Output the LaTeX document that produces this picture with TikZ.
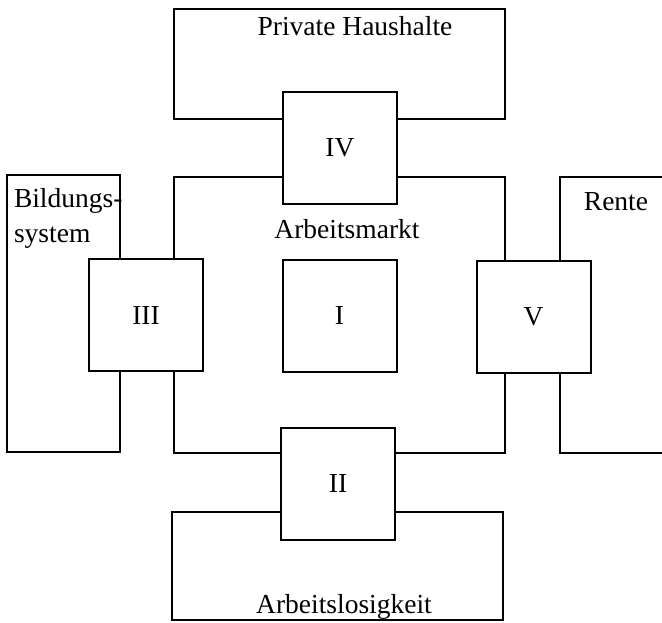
\documentclass[tikz,border=0pt]{standalone}
\usepackage{fontspec}
\setmainfont{Liberation Serif}
\begin{document}
\begin{tikzpicture}[x=1pt,y=-1pt,
  every node/.style={font=\fontsize{27.5}{32}\selectfont, inner sep=0pt, outer sep=0pt},
  bigbox/.style={draw=black, line width=2pt, rectangle},
  smallbox/.style={draw=black, line width=2pt, fill=white, rectangle, minimum width=114pt, minimum height=112pt},
  lbl/.style={anchor=base}]
\useasboundingbox (0,0) rectangle (662,622);
% outer boxes
\node[bigbox, minimum width=331pt, minimum height=110pt] (ph) at (339.5,64) {};
\node[bigbox, minimum width=331pt, minimum height=276pt] (am) at (339.5,315) {};
\node[bigbox, minimum width=113pt, minimum height=277pt] (bs) at (63.5,313.5) {};
\node[bigbox, minimum width=331pt, minimum height=108pt] (al) at (337.5,566) {};
\coordinate (rt1) at (662,177);
\coordinate (rt2) at (560,177);
\coordinate (rt3) at (560,453);
\coordinate (rt4) at (662,453);
\draw[line width=2pt, line join=miter] (rt1) -- (rt2) -- (rt3) -- (rt4);
% small boxes
\node[smallbox] (iv) at (340,148) {IV};
\node[smallbox] (iii) at (146,315) {III};
\node[smallbox] (i) at (339.5,315.5) {I};
\node[smallbox] (v) at (533.5,317) {V};
\node[smallbox] (ii) at (338,483.5) {II};
% labels
\node[lbl] (tph) at (355,35) {Private Haushalte};
\node[lbl] (tam) at (347,238) {Arbeitsmarkt};
\node[lbl] (tal) at (344,613) {Arbeitslosigkeit};
\node[lbl] (tre) at (616,210) {Rente};
\node[anchor=base west] (tbs1) at (14,207) {Bildungs-};
\node[anchor=base west] (tbs2) at (14,242) {system};
\end{tikzpicture}
\end{document}
